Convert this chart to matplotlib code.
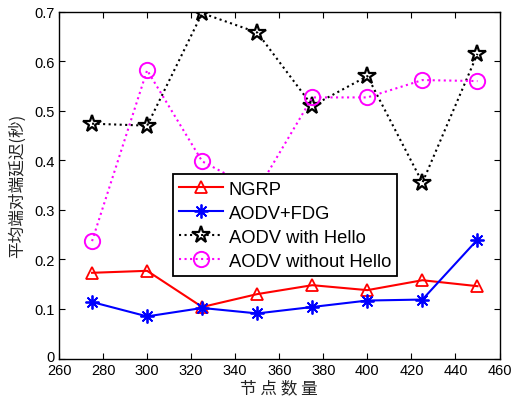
import matplotlib
matplotlib.use("Agg")
import matplotlib.pyplot as plt
from matplotlib.transforms import ScaledTranslation

plt.rcParams['font.family'] = ['Liberation Sans', 'Noto Sans CJK SC', 'DejaVu Sans']

# node counts and mean end-to-end delay (s)
nodes = [275, 300, 325, 350, 375, 400, 425, 450]
ngrp = [0.173, 0.177, 0.104, 0.130, 0.148, 0.138, 0.158, 0.146]
aodv_fdg = [0.114, 0.085, 0.102, 0.091, 0.104, 0.117, 0.119, 0.240]
aodv_hello = [0.474, 0.470, 0.697, 0.658, 0.510, 0.570, 0.355, 0.615]
aodv_nohello = [0.237, 0.582, 0.398, 0.339, 0.527, 0.527, 0.562, 0.560]

xticks = list(range(260, 461, 20))
yticks = [0, 0.1, 0.2, 0.3, 0.4, 0.5, 0.6, 0.7]
ylabels = ['0', '0.1', '0.2', '0.3', '0.4', '0.5', '0.6', '0.7']

fig = plt.figure(figsize=(5.11, 4.02), dpi=100)
ax = fig.add_axes([0.1155, 0.1057, 0.862, 0.8627])

ax.plot(nodes, ngrp, color='red', lw=1.5, marker='^', ms=8,
        mfc='none', mec='red', mew=1.3, label='NGRP')
ax.plot(nodes, aodv_fdg, color='blue', lw=1.5, marker=(8, 2, 0), ms=10,
        mec='blue', mew=1.3, label='AODV+FDG')
ax.plot(nodes, aodv_hello, color='black', lw=1.5, ls=':', marker='*', ms=13,
        mfc='none', mec='black', mew=1.6, label='AODV with Hello')
ax.plot(nodes, aodv_nohello, color='magenta', lw=1.5, ls=':', marker='o', ms=11,
        mfc='none', mec='magenta', mew=1.4, label='AODV without Hello')

ax.set_xlim(260, 460)
ax.set_ylim(0, 0.7)
ax.set_xticks(xticks)
ax.set_yticks(yticks)
ax.set_yticklabels(ylabels)
ax.tick_params(direction='in', top=True, right=True, labelsize=10.5, length=4, pad=3)
# nudge the "0" up a few pixels so it sits just above the "260"
zero = ax.get_yticklabels()[0]
zero.set_transform(zero.get_transform() + ScaledTranslation(0, 3 / 100, fig.dpi_scale_trans))
for s in ax.spines.values():
    s.set_linewidth(1.0)

ax.set_xlabel('节 点 数 量', fontsize=12, family=['Noto Sans CJK SC', 'DejaVu Sans'],
              labelpad=2, color='#222222')
ax.set_ylabel('平均端对端延迟(秒)', fontsize=12, family=['Noto Sans CJK SC', 'DejaVu Sans'],
              labelpad=6, color='#222222')

leg = ax.legend(loc='lower left', bbox_to_anchor=(0.258, 0.238), fontsize=13.2,
                fancybox=False, framealpha=1, edgecolor='black', borderpad=0.35,
                labelspacing=0.38, handlelength=2.4, handletextpad=0.3,
                borderaxespad=0)
leg.get_frame().set_linewidth(1.3)

fig.savefig('out.png', dpi=100)
